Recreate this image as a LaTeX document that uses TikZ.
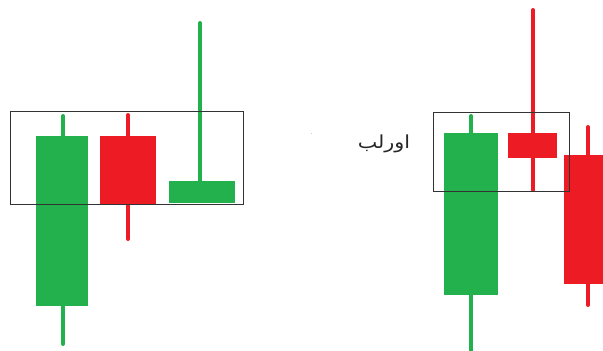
\documentclass[tikz,border=0pt]{standalone}
\usepackage{fontspec}
\newfontfamily\arabicfont[Script=Arabic]{DejaVu Sans}
\TeXXeTstate=1
\definecolor{cgreen}{HTML}{22B14C}
\definecolor{cred}{HTML}{ED1C24}
\definecolor{ctext}{HTML}{262626}
\tikzset{
  wick/.style={line width=4pt, line cap=round},
  frame/.style={draw=black!80, line width=0.9pt},
}
\begin{document}
\begin{tikzpicture}[x=1pt,y=-1pt]
\useasboundingbox (0,0) rectangle (603,351);
% left panel
\draw[wick, cgreen] (63,116) coordinate (g1t) -- (63,344) coordinate (g1b);
\fill[cgreen] (36,136) rectangle (88,306);
\draw[wick, cred] (128,115) coordinate (r1t) -- (128,239) coordinate (r1b);
\fill[cred] (100,136) rectangle (156,204);
\draw[wick, cgreen] (200,23) coordinate (g3t) -- (200,190) coordinate (g3b);
\fill[cgreen] (169,181) rectangle (235,203);
\draw[frame] (10,111) rectangle (243,204);
% right panel
\draw[wick, cgreen] (471,116) coordinate (g4t) -- (471,353) coordinate (g4b);
\fill[cgreen] (444,133) rectangle (498,295);
\draw[wick, cred] (533,10) coordinate (r2t) -- (533,190) coordinate (r2b);
\fill[cred] (508,133) rectangle (557,158);
\draw[wick, cred] (588,127) coordinate (r3t) -- (588,305) coordinate (r3b);
\fill[cred] (564,155) rectangle (605,284);
\draw[frame] (433,112) rectangle (569,191);
\fill[cred!30] (310.5,132.5) rectangle (312,134);
\node[text=ctext, inner sep=0pt, anchor=center, xscale=1.15, font=\arabicfont\fontsize{18}{20}\selectfont] (lbl) at (384,144) {\beginR اورلب\endR};
\end{tikzpicture}
\end{document}
